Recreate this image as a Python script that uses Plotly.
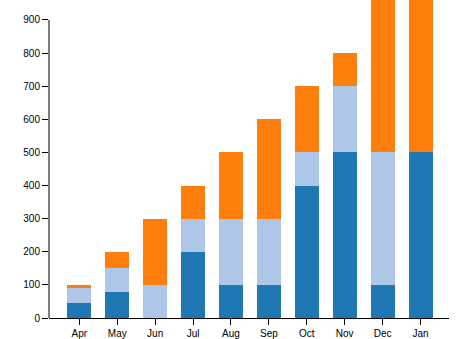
import plotly.graph_objects as go

months = ["Apr", "May", "Jun", "Jul", "Aug", "Sep", "Oct", "Nov", "Dec", "Jan"]
series_a = [45, 80, 0, 200, 100, 100, 400, 500, 100, 500]
series_b = [45, 70, 100, 100, 200, 200, 100, 200, 400, 0]
series_c = [10, 50, 200, 100, 200, 300, 200, 100, 500, 500]
y_ticks = [0, 100, 200, 300, 400, 500, 600, 700, 800, 900]

colors = ["#1f77b4", "#aec7e8", "#ff7f0e"]

fig = go.Figure()
for vals, col in zip([series_a, series_b, series_c], colors):
    fig.add_trace(go.Bar(x=months, y=vals, marker=dict(color=col, line=dict(width=0)),
                         hoverinfo="skip"))

font = dict(family="Liberation Sans, Arial, sans-serif", size=10, color="black")
fig.update_layout(
    width=469, height=339,
    margin=dict(l=49, r=20, t=0, b=19),
    barmode="stack", bargap=0.367,
    showlegend=False,
    plot_bgcolor="white", paper_bgcolor="white",
    font=font,
    xaxis=dict(range=[-0.8, 9.75], showline=True, linecolor="black", linewidth=1,
               ticks="outside", ticklen=6, tickcolor="black", tickwidth=1,
               showgrid=False, zeroline=False, tickfont=font, fixedrange=True),
    yaxis=dict(range=[0, 960], showline=False, tickvals=y_ticks,
               ticks="outside", ticklen=6, tickcolor="black", tickwidth=1,
               showgrid=False, zeroline=False, tickfont=font, fixedrange=True),
)
# y axis domain line (0..900) and x-axis outer end ticks
fig.add_shape(type="line", xref="paper", yref="y", x0=0, x1=0, y0=0, y1=y_ticks[-1],
              line=dict(color="black", width=1), layer="above")
for xp in [0, 1]:
    fig.add_shape(type="line", xref="paper", yref="y", ysizemode="pixel", yanchor=0,
                  x0=xp, x1=xp, y0=0, y1=-6, line=dict(color="black", width=1))

fig.write_html("out.html")
